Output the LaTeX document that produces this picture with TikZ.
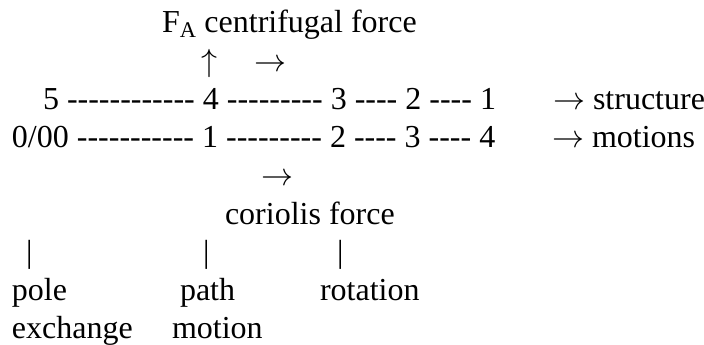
\RequirePackage{fix-cm}
\documentclass[tikz,border=0pt]{standalone}
\usepackage{fontspec}
\setmainfont{Liberation Serif}[Ligatures=TeXOff]
\begin{document}
\begin{tikzpicture}[x=1pt,y=-1pt,
  txt/.style={anchor=base west,inner sep=0pt,outer sep=0pt,font=\fontsize{32}{38}\selectfont}]
\useasboundingbox (0,0) rectangle (704,345);
\node[txt] (fa) at (162,33) {F\textsubscript{A} centrifugal force};
\node[txt] (up) at (201,71.2) {$\uparrow$};
\node[txt] (ra1) at (254,71.2) {$\rightarrow$};
\node[txt] (struct) at (43,109.4) {5 ------------ 4 --------- 3 ---- 2 ---- 1};
\node[txt] (structl) at (553,109.4) {$\rightarrow$ structure};
\node[txt] (mot) at (12,147.6) {0/00 ----------- 1 --------- 2 ---- 3 ---- 4};
\node[txt] (motl) at (552,147.6) {$\rightarrow$ motions};
\node[txt] (ra2) at (261,185.8) {$\rightarrow$};
\node[txt] (cor) at (225,224) {coriolis force};
\node[txt] (b1) at (26,262.2) {|};
\node[txt] (b2) at (203,262.2) {|};
\node[txt] (b3) at (337,262.2) {|};
\node[txt] (pole) at (12,300.4) {pole};
\node[txt] (path) at (180,300.4) {path};
\node[txt] (rot) at (320,300.4) {rotation};
\node[txt] (exch) at (12,338.2) {exchange};
\node[txt] (motion) at (172,338.2) {motion};
\end{tikzpicture}
\end{document}
